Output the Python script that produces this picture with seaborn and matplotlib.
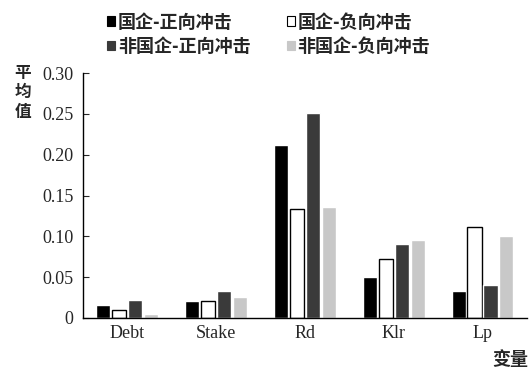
import pandas as pd
import seaborn as sns
import matplotlib.pyplot as plt

# Data
variables = ['Debt', 'Stake', 'Rd', 'Klr', 'Lp']
groups = ['国企-正向冲击', '国企-负向冲击', '非国企-正向冲击', '非国企-负向冲击']
soe_pos = [0.016, 0.021, 0.212, 0.050, 0.033]
soe_neg = [0.010, 0.021, 0.133, 0.072, 0.111]
nonsoe_pos = [0.022, 0.033, 0.251, 0.090, 0.040]
nonsoe_neg = [0.005, 0.026, 0.136, 0.095, 0.100]
colors = ['#000000', '#ffffff', '#3a3a3a', '#c8c8c8']
y_ticks = [0, 0.05, 0.10, 0.15, 0.20, 0.25, 0.30]
y_ticklabels = ['0', '0.05', '0.10', '0.15', '0.20', '0.25', '0.30']

df = pd.DataFrame({
    'var': variables * 4,
    'group': [g for g in groups for _ in variables],
    'value': soe_pos + soe_neg + nonsoe_pos + nonsoe_neg,
})

sns.set_style('white')
plt.rcParams['font.family'] = ['Liberation Serif', 'Noto Sans CJK SC']

fig = plt.figure(figsize=(5.29, 3.71), dpi=100)
ax = fig.add_axes([0.157, 0.143, 0.839, 0.660])

sns.barplot(data=df, x='var', y='value', hue='group', hue_order=groups,
            palette=colors, width=0.72, gap=0.12, ax=ax, legend=True)

# white bars get a black outline
for bar in ax.containers[1]:
    bar.set_edgecolor('black')
    bar.set_linewidth(1.0)

ax.set_xlim(-0.5, 4.5)
ax.set_ylim(0, 0.30)
ax.set_yticks(y_ticks)
ax.set_yticklabels(y_ticklabels, fontsize=13)
ax.tick_params(axis='y', direction='in', length=4, width=0.8, pad=7, left=True)
ax.tick_params(axis='x', length=0, labelsize=13, pad=5)
ax.set_xlabel('')
ax.set_ylabel('')
for s in ['top', 'right']:
    ax.spines[s].set_visible(False)
for s in ['left', 'bottom']:
    ax.spines[s].set_color('black')
    ax.spines[s].set_linewidth(1.0)

cjk = {'family': ['Noto Sans CJK SC', 'DejaVu Sans'], 'weight': 'bold', 'size': 13}
fig.text(0.043, 0.828, '平\n均\n值', ha='center', va='top', linespacing=1.1,
         **dict(cjk, size=12))
fig.text(0.998, 0.005, '变量', ha='right', va='bottom', **cjk)

handles, labels = ax.get_legend_handles_labels()
ax.get_legend().remove()
for h, c in zip(handles, colors):
    h.set_facecolor(c)
    h.set_edgecolor('black' if c == '#ffffff' else c)
    h.set_linewidth(0.8)
# matplotlib fills legend columns first, reorder so rows read left to right
order = [0, 2, 1, 3]
fig.legend([handles[i] for i in order], [labels[i] for i in order], ncol=2,
           loc='upper center', bbox_to_anchor=(0.508, 1.01),
           frameon=False, prop=cjk, handlelength=0.45, handleheight=0.45,
           handletextpad=0.15, columnspacing=2.0, labelspacing=0.3)

fig.savefig('out.png', dpi=100)
